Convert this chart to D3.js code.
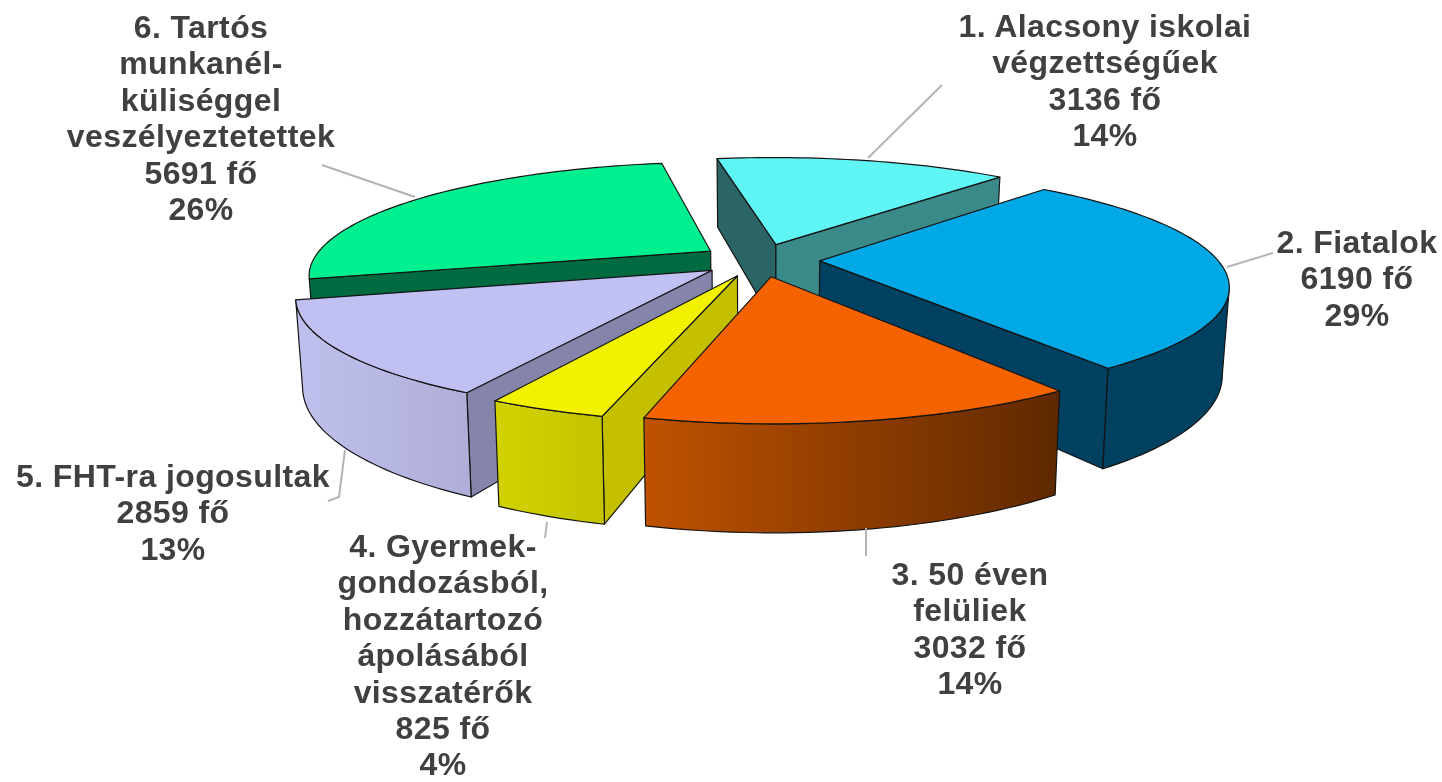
<!DOCTYPE html>
<html>
<head>
<meta charset="utf-8">
<script src="https://cdn.jsdelivr.net/npm/d3@7"></script>
<style>
html, body { margin: 0; padding: 0; background: #fff; overflow: hidden; }
svg { display: block; }
.label { font-family: "Liberation Sans", Arial, sans-serif; font-weight: bold; font-size: 32px; fill: #404040; text-anchor: middle; letter-spacing: 0.4px; }
.edge { stroke: #141414; stroke-width: 1.2; stroke-linejoin: round; }
.leader { fill: none; stroke: #b4b4b4; stroke-width: 2; }
</style>
</head>
<body>
<svg id="chart" width="1442" height="782"></svg>
<script>
"use strict";
// data
var categories = ["1. Alacsony iskolai végzettségűek", "2. Fiatalok", "3. 50 éven felüliek",
	"4. Gyermekgondozásból, hozzátartozó ápolásából visszatérők", "5. FHT-ra jogosultak",
	"6. Tartós munkanélküliséggel veszélyeztetettek"];
var people = [3136, 6190, 3032, 825, 2859, 5691];
var percents = [14, 29, 14, 4, 13, 26];

// wrapped name lines as printed on the chart
var nameLines = [
	["1. Alacsony iskolai", "végzettségűek"],
	["2. Fiatalok"],
	["3. 50 éven", "felüliek"],
	["4. Gyermek-", "gondozásból,", "hozzátartozó", "ápolásából", "visszatérők"],
	["5. FHT-ra jogosultak"],
	["6. Tartós", "munkanél-", "küliséggel", "veszélyeztetettek"]
];

// colours: top, radial wall, rim gradient start and end
var topColors = ["#5ff5f5", "#00a8e6", "#f56200", "#f2f200", "#c0c0f2", "#00f090"];
var wallColors = ["#3a8a8a", "#004060", "#8a3a00", "#c4c000", "#8585ac", "#006a40"];
var rimStart = ["#3a8a8a", "#004060", "#bf5200", "#d2d200", "#c0c0ee", "#006a40"];
var rimEnd = ["#3a8a8a", "#004060", "#5f2800", "#c4c400", "#aeaed8", "#006a40"];
var leftWallColor = "#2a6464"; // slice 1 shows two walls

// layout
var width = 1442, height = 782;
var centerX = 760, centerY = 260;
var radiusX = 398, radiusY = 110;
var explode = 0.15;
var perspective = 5;
var pieHeight = 84;
var taper = 0.985;
var startDeg = -10;
var paintOrder = [0, 5, 1, 4, 3, 2];

// label block: centre x, first baseline
var labelX = [1105, 1357, 970, 443, 173, 201];
var labelY = [37, 253, 585, 557, 487, 38];
var lineHeight = 36.4;

// leader lines
var leaders = [
	[[868, 158], [942, 85]],
	[[1227, 267], [1273, 253]],
	[[866, 528], [866, 556]],
	[[547, 522], [545, 538]],
	[[345, 450], [339, 497], [328, 501]],
	[[322, 165], [415, 197]]
];

var svg = d3.select("#chart");
var defs = svg.append("defs");

var scaleX = d3.scaleLinear().domain([-1, 1]).range([-radiusX, radiusX]);
var scaleY = d3.scaleLinear().domain([-1, 1]).range([-radiusY, radiusY]);

var arcs = d3.pie().sort(null)
	.startAngle(startDeg * Math.PI / 180)
	.endAngle(startDeg * Math.PI / 180 + 2 * Math.PI)(people);

var line = d3.line();

// ground point to screen, y of the pie grows toward the viewer
function project(gx, gy) {
	var p = perspective / (perspective - gy);
	return [centerX + scaleX(gx) * p, centerY + scaleY(gy) * p];
}

function lower(gx, gy) {
	var p = perspective / (perspective - gy);
	var top = project(gx, gy);
	return [centerX + (top[0] - centerX) * taper, top[1] + pieHeight * p];
}

function cross(a, b, c) {
	return (b[0] - a[0]) * (c[1] - a[1]) - (b[1] - a[1]) * (c[0] - a[0]);
}

// does the wall from a to b face us, r being the other corner of the slice
function wallVisible(a, b, r) {
	var down = [a[0], a[1] + 1];
	return cross(a, b, down) * cross(a, b, r) < 0;
}

function drawSlice(i) {
	var d = arcs[i];
	var g = svg.append("g").attr("class", "slice");
	var mid = (d.startAngle + d.endAngle) / 2;
	var ox = Math.sin(mid) * explode;
	var oy = -Math.cos(mid) * explode;

	var steps = Math.max(4, Math.round((d.endAngle - d.startAngle) * 40));
	var ground = d3.range(steps + 1).map(function(k) {
		var a = d.startAngle + (d.endAngle - d.startAngle) * k / steps;
		return [ox + Math.sin(a), oy - Math.cos(a), a];
	});
	var topArc = ground.map(function(q) { return project(q[0], q[1]); });
	var apexTop = project(ox, oy);
	var apexLow = lower(ox, oy);
	var first = ground[0], last = ground[steps];

	// radial walls
	var walls = [
		{end: first, other: topArc[steps], color: i == 0 ? leftWallColor : wallColors[i]},
		{end: last, other: topArc[0], color: wallColors[i]}
	];
	walls.forEach(function(w) {
		var t = project(w.end[0], w.end[1]);
		if (!wallVisible(apexTop, t, w.other)) return;
		g.append("path")
			.attr("class", "edge")
			.attr("fill", w.color)
			.attr("d", line([apexTop, t, lower(w.end[0], w.end[1]), apexLow]) + "Z");
	});

	// curved rim, only the part turned to the viewer: the arc runs clockwise,
	// so it faces us where it moves left on screen
	var front = ground.filter(function(q, k) {
		if (k == steps) return topArc[k][0] < topArc[k - 1][0];
		return topArc[k + 1][0] < topArc[k][0];
	});
	if (front.length > 1) {
		var gradId = "rim" + i;
		var grad = defs.append("linearGradient").attr("id", gradId);
		// rim colours run from the left end to the right end of the box
		grad.append("stop").attr("offset", "0%").attr("stop-color", rimStart[i]);
		grad.append("stop").attr("offset", "100%").attr("stop-color", rimEnd[i]);
		var upper = front.map(function(q) { return project(q[0], q[1]); });
		var bottom = front.map(function(q) { return lower(q[0], q[1]); }).reverse();
		g.append("path")
			.attr("class", "edge")
			.attr("fill", "url(#" + gradId + ")")
			.attr("d", line(upper.concat(bottom)) + "Z");
	}

	// top face
	g.append("path")
		.attr("class", "edge")
		.attr("fill", topColors[i])
		.attr("d", line([apexTop].concat(topArc)) + "Z");
}

paintOrder.forEach(drawSlice);

// leader lines
svg.append("g").selectAll("path")
	.data(leaders)
	.enter()
	.append("path")
	.attr("class", "leader")
	.attr("d", function(d) { return line(d); });

// labels
var labels = svg.append("g").style("filter", "blur(0.5px)");
categories.forEach(function(name, i) {
	var rows = nameLines[i].concat([people[i] + " fő", percents[i] + "%"]);
	labels.append("text")
		.attr("class", "label")
		.selectAll("tspan")
		.data(rows)
		.enter()
		.append("tspan")
		.attr("x", labelX[i])
		.attr("y", function(d, k) { return labelY[i] + k * lineHeight; })
		.text(function(d) { return d; });
});
</script>
</body>
</html>
